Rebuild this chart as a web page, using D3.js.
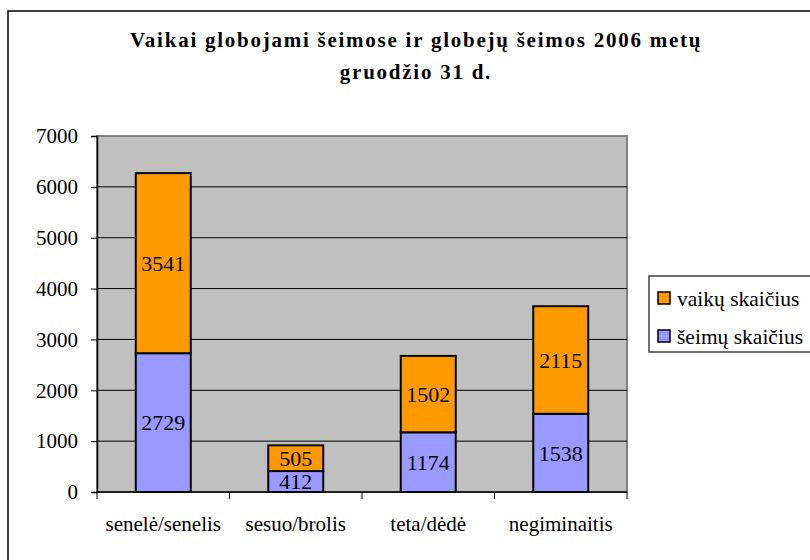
<!DOCTYPE html>
<html>
<head>
<meta charset="utf-8">
<script src="https://cdn.jsdelivr.net/npm/d3@7"></script>
<style>
  body { margin: 0; background: #fff; }
  svg text { font-family: "Liberation Serif", "Times New Roman", serif; }
</style>
</head>
<body>
<div id="chart"></div>
<script>
// data
const categories = ["senelė/senelis", "sesuo/brolis", "teta/dėdė", "negiminaitis"];
const seimuValues = [2729, 412, 1174, 1538];
const vaikuValues = [3541, 505, 1502, 2115];
const seriesNames = ["šeimų skaičius", "vaikų skaičius"];
const yTicks = [0, 1000, 2000, 3000, 4000, 5000, 6000, 7000];
const titleLines = ["Vaikai globojami šeimose ir globejų šeimos 2006 metų", "gruodžio 31 d."];

const W = 810, H = 560;
const plot = { left: 97, right: 627, top: 136, bottom: 492 };
const colors = { "šeimų skaičius": "#9999ff", "vaikų skaičius": "#ff9900" };
const serif = "Liberation Serif, Times New Roman, serif";

const svg = d3.select("#chart").append("svg")
    .attr("width", W)
    .attr("height", H)
    .attr("font-family", serif);

// outer chart frame (runs off the right/bottom edge)
svg.append("rect")
    .attr("x", 8).attr("y", 11)
    .attr("width", W + 20).attr("height", H + 20)
    .attr("fill", "#fff")
    .attr("stroke", "#000")
    .attr("stroke-width", 1.5);

// title
svg.append("g").selectAll("text")
    .data(titleLines)
    .enter()
    .append("text")
    .attr("x", 416)
    .attr("y", (d, i) => 47 + i * 32)
    .attr("text-anchor", "middle")
    .attr("font-size", "21px")
    .attr("font-weight", 700)
    .attr("letter-spacing", "1.75px")
    .text(d => d);

const x = d3.scaleBand()
    .domain(categories)
    .range([plot.left, plot.right])
    .paddingInner(0.585)
    .paddingOuter(0.2925);

const y = d3.scaleLinear()
    .domain([0, 7000])
    .range([plot.bottom, plot.top]);

// plot background
svg.append("rect")
    .attr("x", plot.left).attr("y", plot.top)
    .attr("width", plot.right - plot.left)
    .attr("height", plot.bottom - plot.top)
    .attr("fill", "#c0c0c0")
    .attr("stroke", "#808080")
    .attr("stroke-width", 2);

// gridlines
svg.append("g")
    .selectAll("line")
    .data(yTicks.filter(d => d > 0 && d < 7000))
    .enter()
    .append("line")
    .attr("x1", plot.left).attr("x2", plot.right)
    .attr("y1", d => y(d)).attr("y2", d => y(d))
    .attr("stroke", "#000")
    .attr("stroke-width", 1);

// stacked bars
const rows = categories.map((c, i) => ({
    cat: c,
    "šeimų skaičius": seimuValues[i],
    "vaikų skaičius": vaikuValues[i]
}));
const stack = d3.stack().keys(seriesNames)(rows);

const layers = svg.append("g").selectAll("g")
    .data(stack)
    .enter()
    .append("g")
    .attr("fill", d => colors[d.key]);

layers.selectAll("rect")
    .data(d => d)
    .enter()
    .append("rect")
    .attr("x", d => x(d.data.cat))
    .attr("width", x.bandwidth())
    .attr("y", d => y(d[1]))
    .attr("height", d => y(d[0]) - y(d[1]))
    .attr("stroke", "#000")
    .attr("stroke-width", 2);

layers.selectAll("text")
    .data(d => d)
    .enter()
    .append("text")
    .attr("x", d => x(d.data.cat) + x.bandwidth() / 2)
    .attr("y", d => (y(d[0]) + y(d[1])) / 2)
    .attr("dy", "0.35em")
    .attr("text-anchor", "middle")
    .attr("font-size", "22px")
    .attr("fill", "#000")
    .text(d => d[1] - d[0]);

// y axis
const yAxis = svg.append("g")
    .attr("transform", `translate(${plot.left},0)`)
    .call(d3.axisLeft(y).tickValues(yTicks).tickFormat(d3.format("d")).tickSize(6).tickPadding(13));
yAxis.attr("font-family", serif).attr("font-size", null);
yAxis.selectAll("text").attr("font-size", "21px").attr("fill", "#000");
yAxis.selectAll("line").attr("stroke", "#000");
yAxis.select(".domain").attr("stroke", "#000").attr("stroke-width", 1.5);

// x axis
const xAxisG = svg.append("g")
    .attr("transform", `translate(0,${plot.bottom})`);
xAxisG.append("line")
    .attr("x1", plot.left).attr("x2", plot.right)
    .attr("stroke", "#000").attr("stroke-width", 1.5);
const bounds = categories.map(c => x(c) - x.step() * x.paddingInner() / 2)
    .concat([plot.right]);
xAxisG.selectAll("line.tick")
    .data(bounds)
    .enter()
    .append("line")
    .attr("class", "tick")
    .attr("x1", d => d).attr("x2", d => d)
    .attr("y1", 0).attr("y2", 7)
    .attr("stroke", "#000");
xAxisG.selectAll("text")
    .data(categories)
    .enter()
    .append("text")
    .attr("x", d => x(d) + x.bandwidth() / 2)
    .attr("y", 39)
    .attr("text-anchor", "middle")
    .attr("font-size", "21px")
    .text(d => d);

// legend
const legend = svg.append("g").attr("transform", "translate(649,276)");
legend.append("rect")
    .attr("width", 180).attr("height", 76)
    .attr("fill", "#fff")
    .attr("stroke", "#404040")
    .attr("stroke-width", 1.5);
const legendItems = legend.selectAll("g")
    .data(seriesNames.slice().reverse())
    .enter()
    .append("g")
    .attr("transform", (d, i) => `translate(9,${16 + i * 38})`);
legendItems.append("rect")
    .attr("width", 12).attr("height", 12)
    .attr("fill", d => colors[d])
    .attr("stroke", "#000")
    .attr("stroke-width", 1.5);
legendItems.append("text")
    .attr("x", 19)
    .attr("y", 6)
    .attr("dy", "0.35em")
    .attr("font-size", "21.5px")
    .text(d => d);
</script>
</body>
</html>
